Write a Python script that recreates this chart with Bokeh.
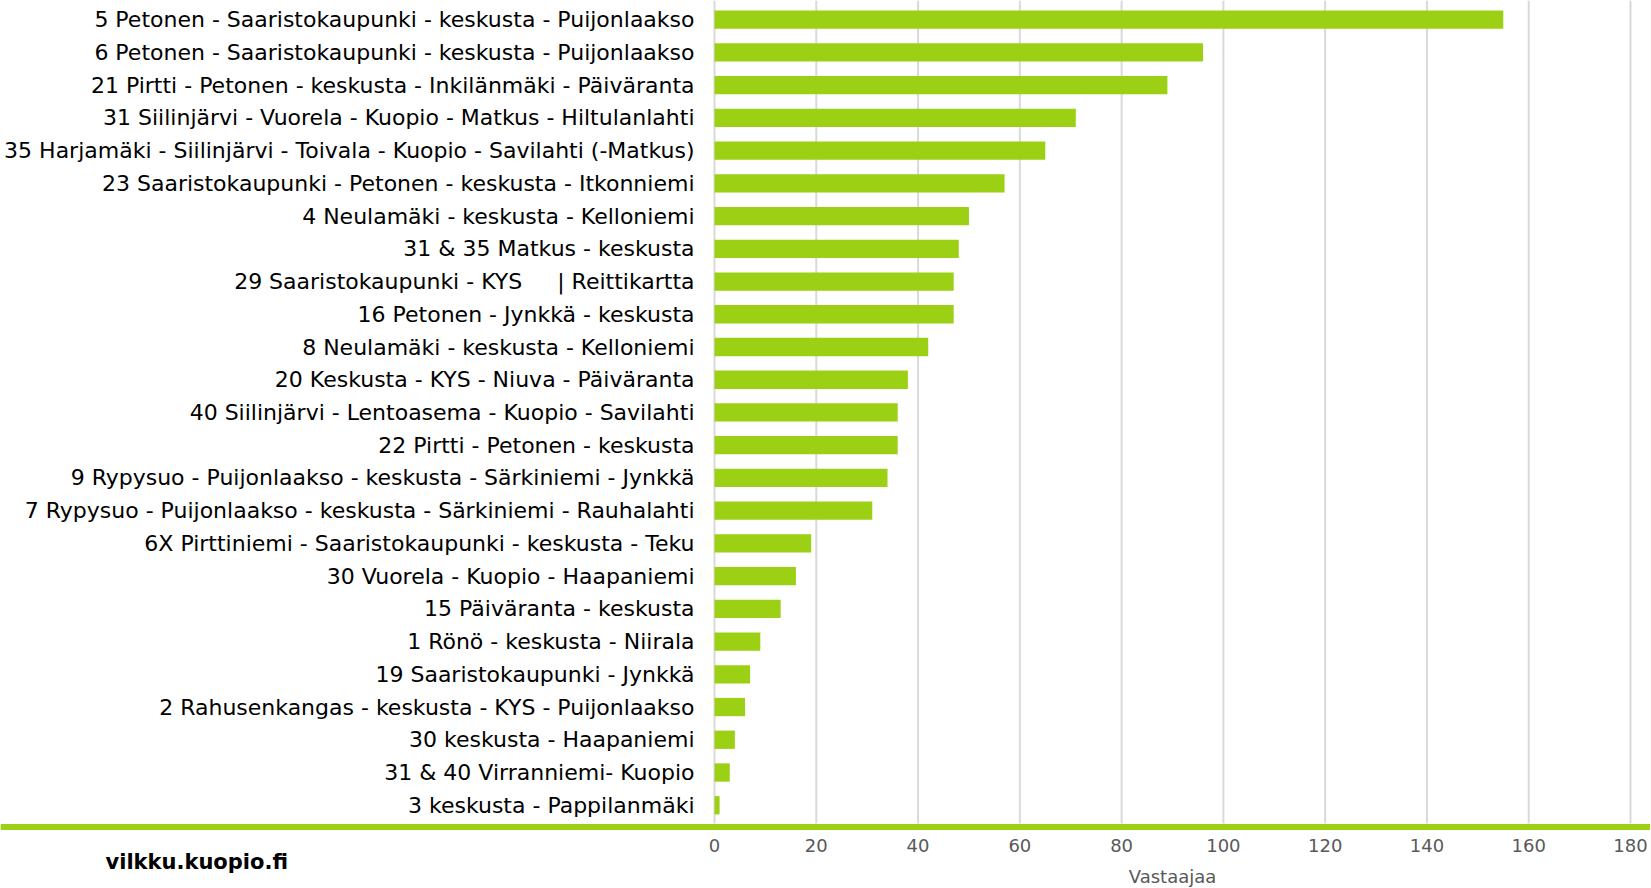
from bokeh.plotting import figure
from bokeh.models import ColumnDataSource, Range1d
from bokeh.core.properties import value
from bokeh.embed import file_html
from bokeh.resources import INLINE

NB = "\u00a0"
routes = [
    "5 Petonen - Saaristokaupunki - keskusta - Puijonlaakso",
    "6 Petonen - Saaristokaupunki - keskusta - Puijonlaakso",
    "21 Pirtti - Petonen - keskusta - Inkilänmäki - Päiväranta",
    "31 Siilinjärvi - Vuorela - Kuopio - Matkus - Hiltulanlahti",
    "35 Harjamäki - Siilinjärvi - Toivala - Kuopio - Savilahti (-Matkus)",
    "23 Saaristokaupunki - Petonen - keskusta - Itkonniemi",
    "4 Neulamäki - keskusta - Kelloniemi",
    "31 & 35 Matkus - keskusta",
    "29 Saaristokaupunki - KYS" + NB * 5 + "| Reittikartta",
    "16 Petonen - Jynkkä - keskusta",
    "8 Neulamäki - keskusta - Kelloniemi",
    "20 Keskusta - KYS - Niuva - Päiväranta",
    "40 Siilinjärvi - Lentoasema - Kuopio - Savilahti",
    "22 Pirtti - Petonen - keskusta",
    "9 Rypysuo - Puijonlaakso - keskusta - Särkiniemi - Jynkkä",
    "7 Rypysuo - Puijonlaakso - keskusta - Särkiniemi - Rauhalahti",
    "6X Pirttiniemi - Saaristokaupunki - keskusta - Teku",
    "30 Vuorela - Kuopio - Haapaniemi",
    "15 Päiväranta - keskusta",
    "1 Rönö - keskusta - Niirala",
    "19 Saaristokaupunki - Jynkkä",
    "2 Rahusenkangas - keskusta - KYS - Puijonlaakso",
    "30 keskusta - Haapaniemi",
    "31 & 40 Virranniemi- Kuopio",
    "3 keskusta - Pappilanmäki",
]
values = [155, 96, 89, 71, 65, 57, 50, 48, 47, 47, 42, 38, 36, 36, 34, 31, 19, 16, 13, 9, 7, 6, 4, 3, 1]
x_ticks = [0, 20, 40, 60, 80, 100, 120, 140, 160, 180]
x_tick_labels = [str(t) for t in x_ticks]
x_title = "Vastaajaa"
footer = "vilkku.kuopio.fi"

# ---- layout (pixels) ----
W, H = 1650, 887
X0 = 714.0                 # pixel of value 0
S = (1630.0 - X0) / 180.0  # pixels per unit
Y0 = 19.2                  # pixel centre of first row
R = 32.73                  # row pitch in pixels

def px_x(px):
    return (px - X0) / S

def px_y(px):
    return (px - Y0) / R

GREEN = "#9BD015"
GRID = "#D9D9D9"
TICK = "#595959"

p = figure(width=W, height=H, output_backend="svg", toolbar_location=None,
           x_range=Range1d(px_x(0), px_x(W)), y_range=Range1d(px_y(H), px_y(0)),
           min_border=0, x_axis_type=None, y_axis_type=None)
p.outline_line_color = None
p.grid.visible = False
p.background_fill_color = "white"
p.border_fill_color = "white"

rows = list(range(len(routes)))
bars = ColumnDataSource(dict(y=rows, v=values, name=routes))

# grid lines
p.segment(x0=x_ticks, x1=x_ticks, y0=[px_y(0)] * len(x_ticks),
          y1=[px_y(823)] * len(x_ticks), line_color=GRID, line_width=2)

# bars
p.hbar(y="y", right="v", left=0, height=18.3 / R, source=bars,
       fill_color=GREEN, line_color=None)

# category labels
p.text(x=px_x(694), y="y", text="name", source=bars,
       text_font=value("DejaVu Sans"), text_font_size="22px",
       text_color="#000000", text_align="right", text_baseline="middle")

# green separator line across the whole width
p.hbar(y=[px_y(826.5)], left=[px_x(0)], right=[px_x(W)], height=6 / R,
       fill_color=GREEN, line_color=None)

# x tick labels
p.text(x=x_ticks, y=[px_y(844.5)] * len(x_ticks), text=x_tick_labels,
       text_font=value("DejaVu Sans"), text_font_size="18px",
       text_color=TICK, text_align="center", text_baseline="middle")

# x axis title
p.text(x=[(x_ticks[0] + x_ticks[-1]) / 2], y=[px_y(876)], text=[x_title],
       text_font=value("DejaVu Sans"), text_font_size="18px",
       text_color=TICK, text_align="center", text_baseline="middle")

# footer
p.text(x=[px_x(105)], y=[px_y(861)], text=[footer],
       text_font=value("DejaVu Sans"), text_font_style="bold",
       text_font_size="21px", text_color="#000000",
       text_align="left", text_baseline="alphabetic")

open("out.html", "w").write(file_html(p, INLINE))
